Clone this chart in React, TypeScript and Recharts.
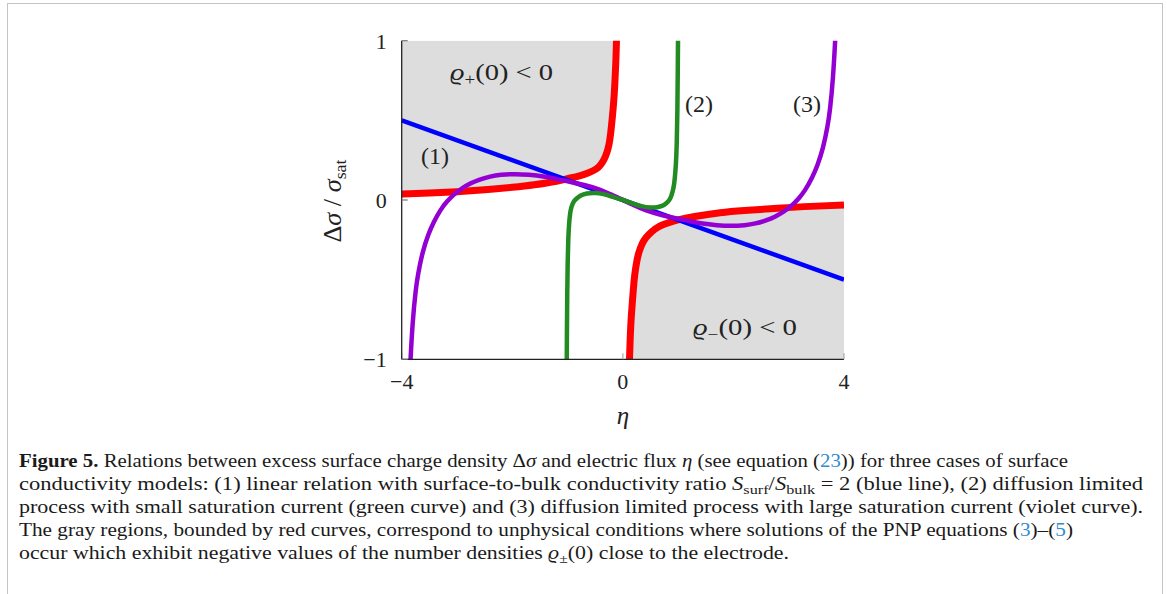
import React from 'react';
import { ComposedChart, Area, Line, XAxis, YAxis } from 'recharts';

// axis ticks
const etaTicks = [-4, 0, 4];
const sigmaTicks = [-1, 0, 1];

// red boundary of the upper-left gray region (rho_+(0) = 0)
const redUpperEta = [-4.0, -3.5, -3.0, -2.5, -2.0, -1.6, -1.2, -1.0, -0.8, -0.62, -0.48, -0.4, -0.34, -0.29, -0.25, -0.22, -0.19, -0.165, -0.145, -0.128, -0.115, -0.105];
const redUpperSigma = [0.037, 0.044, 0.052, 0.064, 0.080, 0.096, 0.118, 0.134, 0.150, 0.171, 0.195, 0.222, 0.255, 0.297, 0.35, 0.42, 0.52, 0.62, 0.73, 0.86, 1.0, 1.12];

// red boundary of the lower-right gray region (rho_-(0) = 0)
const redLowerEta = [0.112, 0.12, 0.132, 0.148, 0.168, 0.19, 0.215, 0.25, 0.29, 0.35, 0.42, 0.52, 0.66, 0.85, 1.0, 1.3, 1.76, 2.2, 2.8, 3.4, 4.0];
const redLowerSigma = [-1.1, -1.0, -0.88, -0.76, -0.66, -0.56, -0.47, -0.39, -0.33, -0.275, -0.235, -0.2, -0.165, -0.14, -0.125, -0.104, -0.08, -0.066, -0.052, -0.04, -0.032];

// (1) linear relation
const blueEta = [-4, 4];
const blueSigma = [0.5, -0.5];

// (2) diffusion limited, small saturation current
const greenEta = [-1.016, -1.012, -1.006, -0.998, -0.987, -0.972, -0.955, -0.93, -0.89, -0.84, -0.76, -0.65, -0.5, -0.35, -0.2, 0, 0.2, 0.35, 0.5, 0.62, 0.72, 0.78, 0.84, 0.88, 0.915, 0.94, 0.96, 0.975, 0.986, 0.993, 1.0];
const greenSigma = [-1.1, -0.85, -0.6, -0.4, -0.25, -0.15, -0.09, -0.045, -0.012, 0.008, 0.028, 0.041, 0.044, 0.037, 0.022, 0, -0.024, -0.04, -0.047, -0.045, -0.035, -0.022, 0.0, 0.03, 0.075, 0.14, 0.23, 0.36, 0.56, 0.8, 1.1];

// (3) diffusion limited, large saturation current
const violetEta = [-3.86, -3.84, -3.8, -3.75, -3.7, -3.62, -3.52, -3.42, -3.3, -3.18, -3.05, -2.9, -2.75, -2.6, -2.4, -2.2, -1.95, -1.7, -1.44, -1.2, -1.0, -0.7, -0.41, -0.2, 0, 0.2, 0.41, 0.7, 1.0, 1.2, 1.44, 1.7, 1.95, 2.2, 2.4, 2.6, 2.75, 2.9, 3.05, 3.18, 3.3, 3.42, 3.52, 3.62, 3.7, 3.75, 3.8, 3.84, 3.86];
const violetSigma = [-1.15, -1.0, -0.77, -0.58, -0.46, -0.33, -0.22, -0.14, -0.065, -0.01, 0.035, 0.075, 0.105, 0.127, 0.147, 0.158, 0.162, 0.158, 0.148, 0.132, 0.118, 0.094, 0.064, 0.032, 0, -0.032, -0.064, -0.094, -0.118, -0.132, -0.148, -0.158, -0.162, -0.158, -0.147, -0.127, -0.105, -0.075, -0.035, 0.01, 0.065, 0.14, 0.22, 0.33, 0.46, 0.58, 0.77, 1.0, 1.15];

const upperRegion = redUpperEta.map((eta, i) => ({ eta, band: [redUpperSigma[i], 1] }));
const lowerRegion = redLowerEta.map((eta, i) => ({ eta, band: [-1, redLowerSigma[i]] }));
const toPoints = (xs: number[], ys: number[]) => xs.map((eta, i) => ({ eta, sigma: ys[i] }));
const redUpper = toPoints(redUpperEta, redUpperSigma);
const redLower = toPoints(redLowerEta, redLowerSigma);
const blue = toPoints(blueEta, blueSigma);
const green = toPoints(greenEta, greenSigma);
const violet = toPoints(violetEta, violetSigma);

const fmt = (v: number) => (v < 0 ? '\u2212' + Math.abs(v) : String(v));

const SERIF = '"Liberation Serif", "DejaVu Serif", serif';
const LINK = '#2f8ccc';

type Seg = { t: string; b?: boolean; i?: boolean; c?: string; sub?: boolean };

const captionLines: { segs: Seg[]; len: number }[] = [
  {
    len: 1049,
    segs: [
      { t: 'Figure 5.', b: true },
      { t: ' Relations between excess surface charge density \u0394' },
      { t: '\u03c3', i: true },
      { t: ' and electric flux ' },
      { t: '\u03b7', i: true },
      { t: ' (see equation (' },
      { t: '23', c: LINK },
      { t: ')) for three cases of surface' },
    ],
  },
  {
    len: 1124,
    segs: [
      { t: 'conductivity models: (1) linear relation with surface-to-bulk conductivity ratio ' },
      { t: 'S', i: true },
      { t: 'surf', sub: true },
      { t: '/' },
      { t: 'S', i: true },
      { t: 'bulk', sub: true },
      { t: ' = 2 (blue line), (2) diffusion limited' },
    ],
  },
  {
    len: 1124,
    segs: [{ t: 'process with small saturation current (green curve) and (3) diffusion limited process with large saturation current (violet curve).' }],
  },
  {
    len: 1054,
    segs: [
      { t: 'The gray regions, bounded by red curves, correspond to unphysical conditions where solutions of the PNP equations (' },
      { t: '3', c: LINK },
      { t: ')\u2013(' },
      { t: '5', c: LINK },
      { t: ')' },
    ],
  },
  {
    len: 770,
    segs: [
      { t: 'occur which exhibit negative values of the number densities ' },
      { t: '\u03f1', i: true },
      { t: '\u00b1', sub: true },
      { t: '(0) close to the electrode.' },
    ],
  },
];

function renderSegs(segs: Seg[], subSize: number, shift: number) {
  let inSub = false;
  return segs.map((s, k) => {
    let dy: number | undefined;
    if (s.sub && !inSub) { dy = shift; inSub = true; }
    else if (!s.sub && inSub) { dy = -shift; inSub = false; }
    return (
      <tspan
        key={k}
        dy={dy}
        fontWeight={s.b ? 'bold' : undefined}
        fontStyle={s.i ? 'italic' : undefined}
        fill={s.c}
        fontSize={s.sub ? subSize : undefined}
      >
        {s.t}
      </tspan>
    );
  });
}

export default function App() {
  return (
    <div style={{ position: 'absolute', left: 0, top: 0, width: 1167, height: 594, overflow: 'hidden', background: '#fff' }}>
      <div style={{ position: 'absolute', left: 7, top: 3, width: 1154, height: 640, borderTop: '1.5px solid #c4c4c4', borderLeft: '1.5px solid #c4c4c4', borderRight: '1.5px solid #c4c4c4' }} />
      <div style={{ position: 'absolute', left: 0, top: 0 }}>
        <ComposedChart width={1167} height={594} margin={{ top: 40.7, right: 323, bottom: 204.7, left: 341.7 }}>
          <Area data={upperRegion} dataKey="band" type="natural" stroke="none" fill="#dddddd" fillOpacity={1} isAnimationActive={false} dot={false} activeDot={false} />
          <Area data={lowerRegion} dataKey="band" type="natural" stroke="none" fill="#dddddd" fillOpacity={1} isAnimationActive={false} dot={false} activeDot={false} />
          <Line data={redUpper} dataKey="sigma" type="natural" stroke="#ff0000" strokeWidth={7} dot={false} activeDot={false} isAnimationActive={false} />
          <Line data={redLower} dataKey="sigma" type="natural" stroke="#ff0000" strokeWidth={7} dot={false} activeDot={false} isAnimationActive={false} />
          <Line data={blue} dataKey="sigma" type="linear" stroke="#0000ff" strokeWidth={4.5} dot={false} activeDot={false} isAnimationActive={false} />
          <Line data={violet} dataKey="sigma" type="natural" stroke="#9400d3" strokeWidth={4.5} dot={false} activeDot={false} isAnimationActive={false} />
          <Line data={green} dataKey="sigma" type="natural" stroke="#228b22" strokeWidth={4.5} dot={false} activeDot={false} isAnimationActive={false} />
          <XAxis
            dataKey="eta"
            type="number"
            domain={[-4, 4]}
            ticks={etaTicks}
            allowDataOverflow
            tickFormatter={fmt}
            height={30}
            axisLine={{ stroke: '#222', strokeWidth: 1.3 }}
            tickLine={{ stroke: '#aaa', strokeWidth: 1.2 }}
            tickSize={-6}
            tickMargin={20}
            tick={{ fill: '#222', fontSize: 22, fontFamily: SERIF }}
          />
          <XAxis
            xAxisId="top"
            orientation="top"
            dataKey="eta"
            type="number"
            domain={[-4, 4]}
            ticks={etaTicks}
            allowDataOverflow
            height={0}
            axisLine={{ stroke: '#8a8a8a', strokeWidth: 1.3 }}
            tickLine={{ stroke: '#aaa', strokeWidth: 1.2 }}
            tickSize={-6}
            tick={false}
          />
          <YAxis
            type="number"
            domain={[-1, 1]}
            ticks={sigmaTicks}
            allowDataOverflow
            tickFormatter={fmt}
            width={60}
            axisLine={{ stroke: '#222', strokeWidth: 1.3 }}
            tickLine={{ stroke: '#777', strokeWidth: 1.2 }}
            tickSize={-6}
            tickMargin={21}
            tick={{ fill: '#222', fontSize: 22, fontFamily: SERIF }}
          />
          <YAxis
            yAxisId="right"
            orientation="right"
            type="number"
            domain={[-1, 1]}
            ticks={sigmaTicks}
            allowDataOverflow
            width={0}
            axisLine={{ stroke: '#555', strokeWidth: 1.3 }}
            tickLine={{ stroke: '#aaa', strokeWidth: 1.2 }}
            tickSize={-6}
            tick={false}
          />
        </ComposedChart>
      </div>
      <svg width={1167} height={594} style={{ position: 'absolute', left: 0, top: 0, pointerEvents: 'none' }}>
        <g fontFamily={SERIF} fill="#222">
          <text x={450} y={80} fontSize={24} textLength={103} lengthAdjust="spacingAndGlyphs">
            <tspan fontStyle="italic">{'\u03f1'}</tspan>
            <tspan fontSize={16} dy={5}>+</tspan>
            <tspan dy={-5}>{'(0) < 0'}</tspan>
          </text>
          <text x={693} y={335} fontSize={24} textLength={104} lengthAdjust="spacingAndGlyphs">
            <tspan fontStyle="italic">{'\u03f1'}</tspan>
            <tspan fontSize={16} dy={5}>{'\u2212'}</tspan>
            <tspan dy={-5}>{'(0) < 0'}</tspan>
          </text>
          <text x={421} y={164} fontSize={24}>(1)</text>
          <text x={685} y={112} fontSize={24}>(2)</text>
          <text x={793} y={112} fontSize={24}>(3)</text>
          <text x={623} y={424} fontSize={25} fontStyle="italic" textAnchor="middle">{'\u03b7'}</text>
          <text x={341} y={201} fontSize={25} textAnchor="middle" transform="rotate(-90 341 201)" textLength={83} lengthAdjust="spacingAndGlyphs">
            <tspan>{'\u0394'}</tspan>
            <tspan fontStyle="italic">{'\u03c3'}</tspan>
            <tspan>{' / '}</tspan>
            <tspan fontStyle="italic">{'\u03c3'}</tspan>
            <tspan fontSize={17} dy={5}>sat</tspan>
          </text>
        </g>
        <g fontFamily={SERIF} fill="#1a1a1a" fontSize={18}>
          {captionLines.map((ln, idx) => (
            <text key={idx} x={19} y={467 + idx * 23} textLength={ln.len} lengthAdjust="spacingAndGlyphs">
              {renderSegs(ln.segs, 13, 4)}
            </text>
          ))}
        </g>
      </svg>
    </div>
  );
}
